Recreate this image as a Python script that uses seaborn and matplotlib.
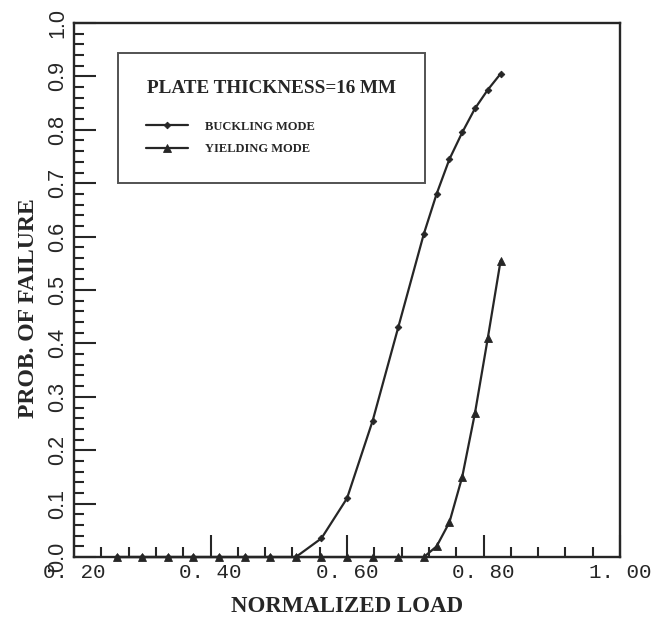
import matplotlib
matplotlib.use("Agg")
import matplotlib.pyplot as plt
import pandas as pd
import seaborn as sns
from matplotlib.ticker import FixedLocator, MultipleLocator

# Normalized load levels and failure probabilities for a 16 mm plate
load_buckling = [0.2625, 0.3, 0.3375, 0.375, 0.4125, 0.45, 0.4875, 0.525,
                 0.5625, 0.6, 0.6375, 0.675, 0.7125,
                 0.73125, 0.75, 0.76875, 0.7875, 0.80625, 0.825]
prob_buckling = [0.0, 0.0, 0.0, 0.0, 0.0, 0.0, 0.0, 0.0,
                 0.035, 0.11, 0.255, 0.43, 0.605,
                 0.68, 0.745, 0.795, 0.84, 0.875, 0.905]

load_yielding = [0.2625, 0.3, 0.3375, 0.375, 0.4125, 0.45, 0.4875, 0.525,
                 0.5625, 0.6, 0.6375, 0.675, 0.7125,
                 0.73125, 0.75, 0.76875, 0.7875, 0.80625, 0.825]
prob_yielding = [0.0, 0.0, 0.0, 0.0, 0.0, 0.0, 0.0, 0.0,
                 0.0, 0.0, 0.0, 0.0, 0.0,
                 0.02, 0.065, 0.15, 0.27, 0.41, 0.555]

series_names = ["BUCKLING MODE", "YIELDING MODE"]
legend_title = "PLATE THICKNESS=16 MM"

x_ticks = [0.2, 0.4, 0.6, 0.8, 1.0]
x_tick_labels = ["0. 20", "0. 40", "0. 60", "0. 80", "1. 00"]
y_ticks = [0.0, 0.1, 0.2, 0.3, 0.4, 0.5, 0.6, 0.7, 0.8, 0.9, 1.0]
y_tick_labels = ["0.0", "0.1", "0.2", "0.3", "0.4", "0.5",
                 "0.6", "0.7", "0.8", "0.9", "1.0"]

x_label = "NORMALIZED LOAD"
y_label = "PROB. OF FAILURE"

sns.set_style("ticks")
plt.rcParams["font.family"] = ["Liberation Serif", "DejaVu Sans"]

ink = "#262626"

df_b = pd.DataFrame({"load": load_buckling, "prob": prob_buckling})
df_y = pd.DataFrame({"load": load_yielding, "prob": prob_yielding})

fig = plt.figure(figsize=(6.65, 6.17), dpi=100)
ax = fig.add_axes([0.1113, 0.0972, 0.8211, 0.8655])

sns.lineplot(data=df_b, x="load", y="prob", ax=ax, color=ink, lw=1.6,
             marker="D", markersize=3.4, markeredgewidth=0.6,
             markeredgecolor=ink, label=series_names[0], clip_on=False,
             zorder=3)
sns.lineplot(data=df_y, x="load", y="prob", ax=ax, color=ink, lw=1.6,
             marker="^", markersize=6.0, markeredgewidth=0.6,
             markeredgecolor=ink, label=series_names[1], clip_on=False,
             zorder=3)

ax.set_xlim(0.2, 1.0)
ax.set_ylim(0.0, 1.0)

ax.xaxis.set_major_locator(FixedLocator(x_ticks))
ax.xaxis.set_minor_locator(MultipleLocator(0.04))
ax.yaxis.set_major_locator(FixedLocator(y_ticks))
ax.yaxis.set_minor_locator(MultipleLocator(0.02))

ax.set_xticklabels(x_tick_labels, fontfamily="Liberation Mono",
                   fontsize=15, color=ink)
ax.set_yticklabels(y_tick_labels, fontfamily="Liberation Sans",
                   fontsize=15.5, color=ink, rotation=90, va="center")

ax.tick_params(axis="both", which="both", direction="in", color=ink,
               top=False, right=False)
ax.tick_params(axis="both", which="major", length=15.5, width=1.5)
ax.tick_params(axis="both", which="minor", length=7, width=1.5)
ax.tick_params(axis="x", which="major", pad=4)
ax.tick_params(axis="y", which="major", pad=4)

for side in ["left", "right", "top", "bottom"]:
    ax.spines[side].set_visible(True)
    ax.spines[side].set_linewidth(1.7)
    ax.spines[side].set_color(ink)

ax.set_xlabel(x_label, fontsize=16.5, fontweight="bold", color=ink)
ax.set_ylabel(y_label, fontsize=17, fontweight="bold", color=ink)
ax.xaxis.set_label_coords(0.5, -0.073)
ax.yaxis.set_label_coords(-0.065, 0.466)

leg = ax.legend(title=legend_title, loc="upper left",
                bbox_to_anchor=(0.0806, 0.944, 0.5624, 0.0),
                mode="expand", frameon=True, fancybox=False,
                prop={"family": "Liberation Serif", "weight": "bold",
                      "size": 9},
                title_fontproperties={"family": "Liberation Serif",
                                      "weight": "bold", "size": 13.8},
                handlelength=3.4, handletextpad=1.35, borderpad=2.2,
                labelspacing=0.85, borderaxespad=0.0)
# extra room between the legend title and its entries
leg._legend_box.sep += 9.0
leg.get_frame().set_edgecolor(ink)
leg.get_frame().set_linewidth(1.4)
for t in leg.get_texts():
    t.set_color(ink)
leg.get_title().set_color(ink)

fig.savefig("out.png", dpi=100, facecolor="white")
